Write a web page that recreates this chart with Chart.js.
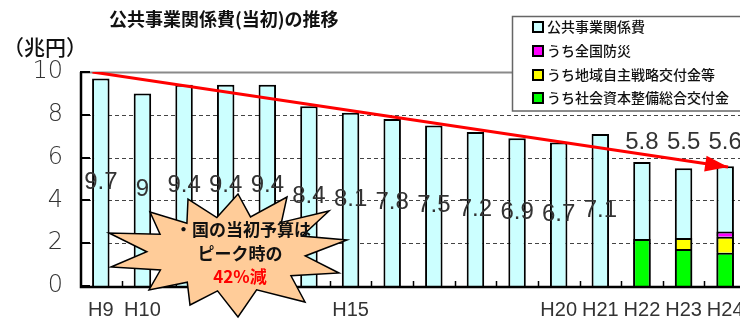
<!DOCTYPE html>
<html><head><meta charset="utf-8">
<script src="https://cdn.jsdelivr.net/npm/chart.js@4"></script>
<style>html,body{margin:0;padding:0;background:#fff;overflow:hidden}#wrap{width:740px;height:325px;overflow:hidden;position:relative}canvas{display:block}</style>
</head><body><div id="wrap"><canvas id="c" width="760" height="325"></canvas></div>
<script>
// ---- data ----
const categories = ['H9','H10','H11','H12','H13','H14','H15','H16','H17','H18','H19','H20','H21','H22','H23','H24'];
const tickLabels = ['H9','H10','','','','','H15','','','','','H20','H21','H22','H23','H24'];
const totalBudget = [9.7,9.0,9.4,9.4,9.4,8.4,8.1,7.8,7.5,7.2,6.9,6.7,7.1,5.8,5.5,5.6];
const totalLabels = ['9.7','9','9.4','9.4','9.4','8.4','8.1','7.8','7.5','7.2','6.9','6.7','7.1','5.8','5.5','5.6'];
const socialCapitalGrant = [null,null,null,null,null,null,null,null,null,null,null,null,null,2.2,1.73,1.55];
const regionalGrant      = [null,null,null,null,null,null,null,null,null,null,null,null,null,null,0.51,0.75];
const disasterPrevention = [null,null,null,null,null,null,null,null,null,null,null,null,null,null,null,0.25];
const yTicks = [0,2,4,6,8,10];
const trendX = [-0.2, 15.07];
const trendY = [10, 5.56];
const seriesNames = ['公共事業関係費','うち全国防災','うち地域自主戦略交付金等','うち社会資本整備総合交付金'];
const titleText = '公共事業関係費(当初)の推移';
const unitText = '（兆円）';
const calloutLines = ['・国の当初予算は','ピーク時の','42%減'];

// ---- style ----
const C_CYAN='#CCFFFF', C_MAG='#FF00FF', C_YEL='#FFFF00', C_GRN='#00FF00';
const LABEL_TOP_VALUE = 6.7;
const JP = '"Noto Sans CJK JP","Noto Sans CJK SC",sans-serif';
const NUM = '"Liberation Sans Narrow","Liberation Sans",sans-serif';

const deco = {
  id:'deco',
  beforeDatasetsDraw(chart){
    const {ctx, chartArea:a, scales:{y}} = chart;
    ctx.save();
    yTicks.forEach(v=>{
      if (v===0) return;
      const py = Math.round(y.getPixelForValue(v))+0.5;
      ctx.beginPath();
      if (v===10){ctx.strokeStyle='#8a8a8a'; ctx.lineWidth=2; ctx.setLineDash([]);}
      else {ctx.strokeStyle='#444'; ctx.lineWidth=1; ctx.setLineDash([4,3]);}
      ctx.moveTo(a.left,py); ctx.lineTo(a.right,py); ctx.stroke();
    });
    ctx.restore();
  },
  afterDatasetsDraw(chart){
    const {ctx, chartArea:a, scales:{x,y}} = chart;
    ctx.save();
    // axes
    ctx.strokeStyle='#000'; ctx.lineWidth=2.5; ctx.setLineDash([]);
    ctx.beginPath(); ctx.moveTo(a.left+1,a.top); ctx.lineTo(a.left+1,a.bottom+1); ctx.lineTo(a.right,a.bottom+1); ctx.stroke();
    ctx.lineWidth=2;
    yTicks.forEach(v=>{const py=Math.round(y.getPixelForValue(v)); ctx.beginPath(); ctx.moveTo(a.left,py); ctx.lineTo(a.left+10,py); ctx.stroke();});
    ctx.lineWidth=1.5;
    const w = (a.right-a.left)/categories.length;
    for(let k=1;k<=categories.length;k++){const px=Math.round(a.left+k*w)+0.5; ctx.beginPath(); ctx.moveTo(px,a.bottom); ctx.lineTo(px,a.bottom-5); ctx.stroke();}
    // value labels
    const meta0 = chart.getDatasetMeta(0);
    ctx.font = '24px '+NUM; ctx.fillStyle='#333'; ctx.textAlign='center'; ctx.textBaseline='middle';
    totalBudget.forEach((v,i)=>{
      const px = meta0.data[i].x;
      const py = socialCapitalGrant[i]!=null ? y.getPixelForValue(LABEL_TOP_VALUE) : y.getPixelForValue(v/2);
      ctx.fillText(totalLabels[i], px, py);
    });
    // arrow head
    const lm = chart.getDatasetMeta(4);
    const p0 = lm.data[0], p1 = lm.data[1];
    const ang = Math.atan2(p1.y-p0.y, p1.x-p0.x);
    const L=23, H=8;
    ctx.fillStyle='#FF0000';
    ctx.beginPath();
    ctx.moveTo(p1.x,p1.y);
    ctx.lineTo(p1.x-L*Math.cos(ang)+H*Math.sin(ang), p1.y-L*Math.sin(ang)-H*Math.cos(ang));
    ctx.lineTo(p1.x-L*Math.cos(ang)-H*Math.sin(ang), p1.y-L*Math.sin(ang)+H*Math.cos(ang));
    ctx.closePath(); ctx.fill();
    // starburst callout
    const cx=225, cy=255;
    const tips=[[-75,-43],[-37,-56],[13,-61],[62,-58],[104,-44],[122,-15],[114,18],[80,47],[13,62],[-35,50],[-76,35],[-114,12],[-116,-22]];
    ctx.beginPath();
    tips.forEach((t,i)=>{
      const n = tips[(i+1)%tips.length];
      const mx=(t[0]+n[0])/2*0.68, my=(t[1]+n[1])/2*0.64;
      if(i===0) ctx.moveTo(cx+t[0],cy+t[1]); else ctx.lineTo(cx+t[0],cy+t[1]);
      ctx.lineTo(cx+mx,cy+my);
    });
    ctx.closePath();
    ctx.fillStyle='#FFCC99'; ctx.fill();
    ctx.strokeStyle='#000'; ctx.lineWidth=1.5; ctx.stroke();
    ctx.font='bold 17px '+JP; ctx.textAlign='center'; ctx.textBaseline='middle';
    ctx.fillStyle='#111'; ctx.fillText(calloutLines[0],243,230); ctx.fillText(calloutLines[1],240,254);
    ctx.fillStyle='#FF0000'; ctx.fillText(calloutLines[2],240,277);
    ctx.restore();
  },
  afterDraw(chart){
    const {ctx} = chart;
    ctx.save();
    ctx.fillStyle='#111'; ctx.textBaseline='middle'; ctx.textAlign='left';
    ctx.font='bold 18px '+JP; ctx.fillText(titleText,109,19);
    ctx.font='500 21px '+JP; ctx.fillText(unitText,3,47);
    // legend
    ctx.fillStyle='#fff'; ctx.fillRect(512,16,260,95);
    ctx.strokeStyle='#666'; ctx.lineWidth=1.5; ctx.strokeRect(512.5,16.5,260,94.5);
    const order=[0,3,2,1];
    const rowsY=[27,51,75,98];
    ctx.font='500 14px '+JP;
    order.forEach((di,r)=>{
      const ds = chart.data.datasets[di];
      ctx.fillStyle=ds.backgroundColor; ctx.fillRect(533,rowsY[r]-5,10,10);
      ctx.strokeStyle='#000'; ctx.lineWidth=2; ctx.strokeRect(533,rowsY[r]-5,10,10);
      ctx.fillStyle='#111'; ctx.fillText(ds.label,547,rowsY[r]);
    });
    ctx.restore();
  }
};

const barCommon = {borderColor:'#000', borderWidth:2, grouped:false, barPercentage:0.42, categoryPercentage:1};
new Chart(document.getElementById('c'), {
  data:{
    labels:categories,
    datasets:[
      Object.assign({type:'bar', label:seriesNames[0], data:totalBudget, backgroundColor:C_CYAN, stack:'total', order:2}, barCommon),
      Object.assign({type:'bar', label:seriesNames[3], data:socialCapitalGrant, backgroundColor:C_GRN, stack:'parts', order:1}, barCommon),
      Object.assign({type:'bar', label:seriesNames[2], data:regionalGrant, backgroundColor:C_YEL, stack:'parts', order:1}, barCommon),
      Object.assign({type:'bar', label:seriesNames[1], data:disasterPrevention, backgroundColor:C_MAG, stack:'parts', order:1}, barCommon),
      {type:'line', label:'trend', xAxisID:'xt', data:trendX.map((v,i)=>({x:v,y:trendY[i]})), borderColor:'#FF0000', borderWidth:3, pointRadius:0, fill:false, order:0}
    ]
  },
  options:{
    responsive:false, animation:false,
    layout:{padding:{top:72,right:14,left:0,bottom:0}},
    plugins:{legend:{display:false}, tooltip:{enabled:false}},
    scales:{
      x:{type:'category', offset:true, grid:{display:false, drawTicks:false}, border:{display:false},
         ticks:{autoSkip:false, maxRotation:0, padding:12, color:'#333', font:{family:NUM, size:20},
                callback:(v,i)=>tickLabels[i]},
         afterFit:(s)=>{s.height=39;}},
      xt:{type:'linear', display:false, min:-0.5, max:15.5},
      y:{min:0, max:10, stacked:true, grid:{display:false, drawTicks:false}, border:{display:false},
         afterBuildTicks:(s)=>{s.ticks=yTicks.map(v=>({value:v}));},
         ticks:{padding:17, color:'#333', font:{family:'"DejaVu Sans",sans-serif', size:24, weight:'200'}},
         afterFit:(s)=>{s.width=80;}}
    }
  },
  plugins:[deco]
});
</script></body></html>
